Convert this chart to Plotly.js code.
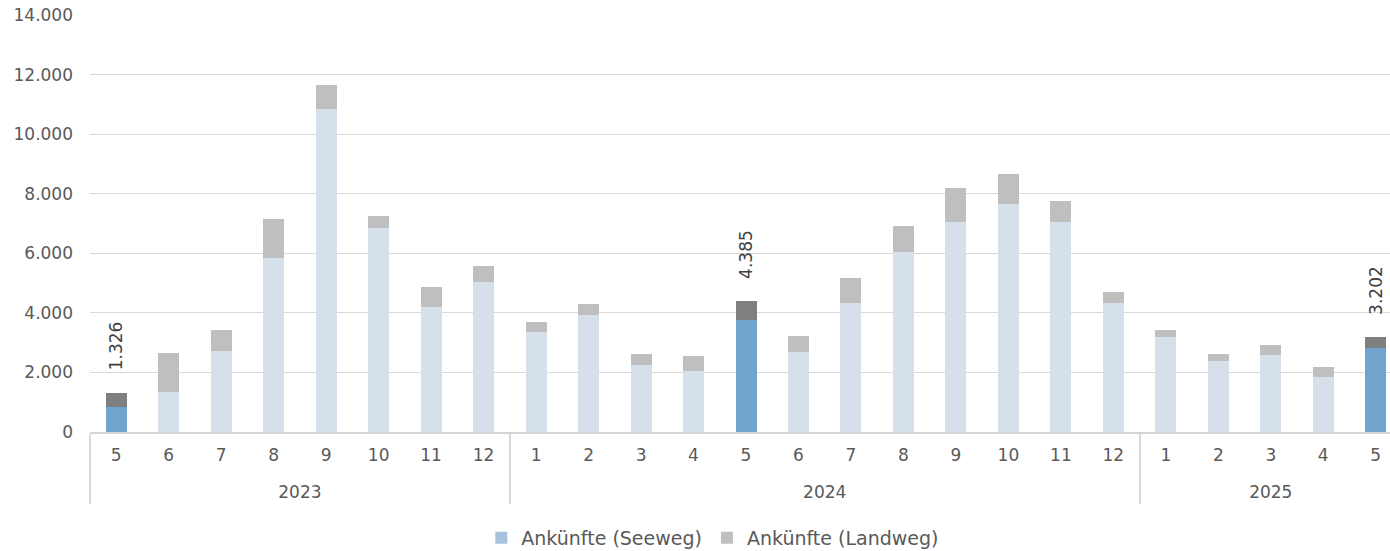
<!DOCTYPE html>
<html>
<head>
<meta charset="utf-8">
<script src="https://cdn.plot.ly/plotly-3.0.1.min.js"></script>
<style>
html,body{margin:0;padding:0;overflow:hidden;background:#fff;}
#chart{width:1410px;height:551px;}
</style>
</head>
<body>
<div id="chart"></div>
<script>
// Data
const years = ['2023','2023','2023','2023','2023','2023','2023','2023',
  '2024','2024','2024','2024','2024','2024','2024','2024','2024','2024','2024','2024',
  '2025','2025','2025','2025','2025'];
const months = ['5','6','7','8','9','10','11','12',
  '1','2','3','4','5','6','7','8','9','10','11','12',
  '1','2','3','4','5'];
const seeweg = [840,1340,2720,5850,10860,6850,4200,5020,
  3350,3940,2250,2050,3760,2690,4330,6050,7060,7650,7060,4320,
  3190,2390,2590,1860,2820];
const landweg = [486,1310,700,1300,800,400,670,560,
  340,350,370,490,625,540,830,880,1120,1000,700,380,
  250,230,330,320,382];
const highlighted = [0,12,24]; // index of current-month bars (May)
const seriesNames = ['Ankünfte (Seeweg)','Ankünfte (Landweg)'];

// month labels get an empty extra line so the year row sits lower;
// the 2023 labels carry one more invisible space so the axis keeps month order per year
const monthLabels = months.map((m,i) => m + '<br>\u00a0' + (years[i] === '2023' ? '\u00a0' : ''));

const seaColors = seeweg.map((v,i)=> highlighted.includes(i) ? '#70a4cf' : '#d6e0ea');
const landColors = landweg.map((v,i)=> highlighted.includes(i) ? '#7f7f7f' : '#bfbfbf');

const fmt = n => String(n).replace(/\B(?=(\d{3})+(?!\d))/g,'.');

const traces = [
  {type:'bar', x:[years,monthLabels], y:seeweg, marker:{color:seaColors,line:{width:0}},
   showlegend:false, hoverinfo:'y', name:seriesNames[0]},
  {type:'bar', x:[years,monthLabels], y:landweg, marker:{color:landColors,line:{width:0}},
   showlegend:false, hoverinfo:'y', name:seriesNames[1]},
  // legend entries
  {type:'bar', x:[[years[0]],[monthLabels[0]]], y:[0], marker:{color:'#a8c1dc',line:{width:0}},
   name:seriesNames[0], hoverinfo:'skip'},
  {type:'bar', x:[[years[0]],[monthLabels[0]]], y:[0], marker:{color:'#bfbfbf',line:{width:0}},
   name:seriesNames[1], hoverinfo:'skip'}
];

const annotations = highlighted.map(i => ({
  x: i, y: seeweg[i] + landweg[i], xref:'x', yref:'y',
  text: fmt(seeweg[i] + landweg[i]), showarrow:false, textangle:-90,
  yanchor:'bottom', xanchor:'center', yshift:20,
  font:{family:'DejaVu Sans', size:17, color:'#404040'}
}));

const layout = {
  width:1410, height:551,
  margin:{l:90, r:8, t:15, b:119},
  paper_bgcolor:'#fff', plot_bgcolor:'#fff',
  barmode:'stack', bargap:0.6,
  separators:',.',
  font:{family:'DejaVu Sans', size:17, color:'#595959'},
  xaxis:{type:'multicategory', showgrid:false, showline:true, linecolor:'#d4d4d4', linewidth:2,
    ticks:'', showdividers:true, dividercolor:'#d9d9d9', dividerwidth:2, automargin:false,
    tickfont:{family:'DejaVu Sans', size:17, color:'#595959'}, ticklabelstandoff:7},
  yaxis:{range:[0,14000], dtick:2000, tickformat:',d', showgrid:true, gridcolor:'#d9d9d9', gridwidth:1,
    zeroline:false, showline:false, ticks:'', ticklabelstandoff:16, automargin:false,
    tickfont:{family:'DejaVu Sans', size:17, color:'#595959'}},
  legend:{orientation:'h', x:0.4747, xanchor:'center', yref:'container', y:0.0236, yanchor:'middle',
    font:{family:'DejaVu Sans', size:19, color:'#595959'}, itemclick:false, traceorder:'normal'},
  annotations: annotations,
  showlegend:true
};

Plotly.newPlot('chart', traces, layout, {displayModeBar:false, staticPlot:true});
</script>
</body>
</html>
